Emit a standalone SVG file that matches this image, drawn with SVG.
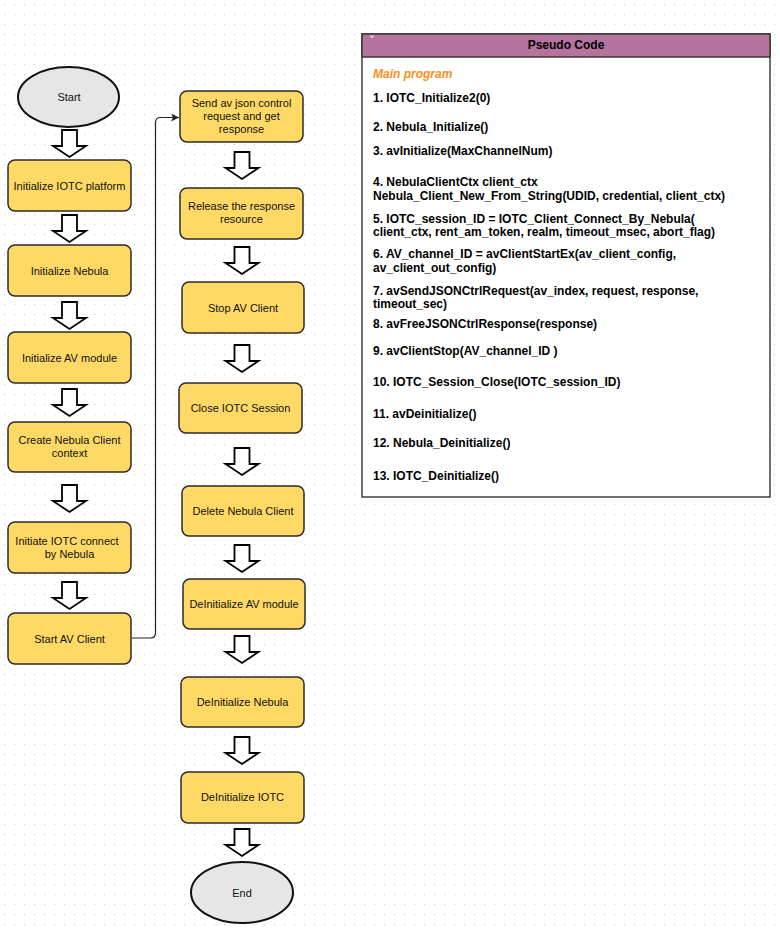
<svg xmlns="http://www.w3.org/2000/svg" width="780" height="933" viewBox="0 0 780 933">
<defs>
<pattern id="grid" width="10" height="10" patternUnits="userSpaceOnUse">
<rect x="4" y="4" width="1.2" height="1.2" fill="#d3d3d3"/>
</pattern>
<path id="barrow" d="M-7.5,0 H7.5 V16 H16.5 L0,27 L-16.5,16 H-7.5 Z"/>
<marker id="ah" markerWidth="10" markerHeight="10" refX="8" refY="4" orient="auto" markerUnits="userSpaceOnUse">
<path d="M0,0 L8,4 L0,8 L2,4 Z" fill="#222"/>
</marker>
<style>
.node{fill:#FFD966;stroke:#2b2b2b;stroke-width:1.5}
.term{fill:#E6E6E6;stroke:#111;stroke-width:2}
.bar{fill:#fff;stroke:#000;stroke-width:1.8;stroke-linejoin:miter}
.t{font-family:"Liberation Sans",Arial,sans-serif;font-size:11px;fill:#111;text-anchor:middle}
.p{font-family:"Liberation Sans",Arial,sans-serif;font-size:12px;font-weight:bold;fill:#000}
.conn{fill:none;stroke:#222;stroke-width:1.2}
</style>
</defs>
<rect width="780" height="933" fill="#fff"/>
<rect width="780" height="933" fill="url(#grid)"/>

<g id="connectors">
<path class="conn" d="M132,638 H150.5 Q155.5,638 155.5,633 V122.5 Q155.5,117.5 160.5,117.5 H179" marker-end="url(#ah)"/>
<g class="bar">
<use href="#barrow" x="69.5" y="130"/>
<use href="#barrow" x="69.5" y="215"/>
<use href="#barrow" x="69.5" y="302"/>
<use href="#barrow" x="69.5" y="389"/>
<use href="#barrow" x="69.5" y="485"/>
<use href="#barrow" x="69.5" y="582"/>
<use href="#barrow" x="242" y="152"/>
<use href="#barrow" x="242" y="247"/>
<use href="#barrow" x="242" y="345"/>
<use href="#barrow" x="242" y="448"/>
<use href="#barrow" x="242" y="545"/>
<use href="#barrow" x="242" y="636"/>
<use href="#barrow" x="242" y="737"/>
<use href="#barrow" x="242" y="829"/>
</g>
</g>

<g id="start"><ellipse class="term" cx="68.5" cy="97" rx="50.5" ry="30"/><text class="t" x="69" y="101">Start</text></g>
<g id="init-iotc"><rect class="node" x="8" y="160" width="123" height="51" rx="7"/><text class="t" x="69.5" y="189.5">Initialize IOTC platform</text></g>
<g id="init-nebula"><rect class="node" x="8" y="245" width="123" height="51" rx="7"/><text class="t" x="69.5" y="274.5">Initialize Nebula</text></g>
<g id="init-av"><rect class="node" x="8" y="332" width="123" height="51" rx="7"/><text class="t" x="69.5" y="361.5">Initialize AV module</text></g>
<g id="create-client"><rect class="node" x="8" y="422" width="123" height="50" rx="7"/><text class="t" x="69.5" y="444">Create Nebula Client</text><text class="t" x="69.5" y="457">context</text></g>
<g id="initiate-connect"><rect class="node" x="8" y="522" width="123" height="51" rx="7"/><text class="t" x="67" y="544.5">Initiate IOTC connect</text><text class="t" x="69.5" y="557.5">by Nebula</text></g>
<g id="start-av"><rect class="node" x="8" y="613" width="123" height="51" rx="7"/><text class="t" x="69.5" y="642.5">Start AV Client</text></g>

<g id="send-json"><rect class="node" x="180" y="91" width="123" height="51" rx="7"/><text class="t" x="241.5" y="107">Send av json control</text><text class="t" x="241.5" y="120">request and get</text><text class="t" x="241.5" y="133">response</text></g>
<g id="release"><rect class="node" x="180" y="188" width="123" height="51" rx="7"/><text class="t" x="241.5" y="210">Release the response</text><text class="t" x="241.5" y="223">resource</text></g>
<g id="stop-av"><rect class="node" x="182" y="282" width="122" height="51" rx="7"/><text class="t" x="243" y="311.5">Stop AV Client</text></g>
<g id="close-session"><rect class="node" x="179" y="383" width="123" height="50" rx="7"/><text class="t" x="240.5" y="411.5">Close IOTC Session</text></g>
<g id="delete-client"><rect class="node" x="182" y="486" width="122" height="50" rx="7"/><text class="t" x="243" y="514.5">Delete Nebula Client</text></g>
<g id="deinit-av"><rect class="node" x="183" y="579" width="122" height="50" rx="7"/><text class="t" x="244" y="607.5">DeInitialize AV module</text></g>
<g id="deinit-nebula"><rect class="node" x="181" y="677" width="123" height="50" rx="7"/><text class="t" x="242.5" y="705.5">DeInitialize Nebula</text></g>
<g id="deinit-iotc"><rect class="node" x="181" y="772" width="123" height="51" rx="7"/><text class="t" x="242.5" y="801">DeInitialize IOTC</text></g>
<g id="end"><ellipse class="term" cx="242" cy="892.5" rx="51" ry="30.5"/><text class="t" x="242" y="896.5">End</text></g>

<g id="pseudo-code">
<rect x="362" y="34" width="408" height="463" fill="#fff" stroke="#333" stroke-width="1.4"/>
<rect x="362" y="34" width="408" height="23" fill="#B5739D" stroke="#333" stroke-width="1.4"/>
<path d="M369.5,35.5 L374.5,35.5 L372,38.5 Z" fill="#e6c8dc"/>
<text class="p" x="566" y="49" text-anchor="middle">Pseudo Code</text>
<text class="p" x="373" y="78" font-style="italic" style="fill:#FF8C1A">Main program</text>
<text class="p" x="373" y="101.5">1. IOTC_Initialize2(0)</text>
<text class="p" x="373" y="131">2. Nebula_Initialize()</text>
<text class="p" x="373" y="155">3. avInitialize(MaxChannelNum)</text>
<text class="p" x="373" y="186">4. NebulaClientCtx client_ctx</text>
<text class="p" x="373" y="200">Nebula_Client_New_From_String(UDID, credential, client_ctx)</text>
<text class="p" x="373" y="222.5">5. IOTC_session_ID = IOTC_Client_Connect_By_Nebula(</text>
<text class="p" x="373" y="236">client_ctx, rent_am_token, realm, timeout_msec, abort_flag)</text>
<text class="p" x="373" y="257.5">6. AV_channel_ID = avClientStartEx(av_client_config,</text>
<text class="p" x="373" y="272">av_client_out_config)</text>
<text class="p" x="373" y="295">7. avSendJSONCtrlRequest(av_index, request, response,</text>
<text class="p" x="373" y="307.5">timeout_sec)</text>
<text class="p" x="373" y="327.5">8. avFreeJSONCtrlResponse(response)</text>
<text class="p" x="373" y="354.5">9. avClientStop(AV_channel_ID )</text>
<text class="p" x="373" y="386">10. IOTC_Session_Close(IOTC_session_ID)</text>
<text class="p" x="373" y="417.5">11. avDeinitialize()</text>
<text class="p" x="373" y="447">12. Nebula_Deinitialize()</text>
<text class="p" x="373" y="479.5">13. IOTC_Deinitialize()</text>
</g>
</svg>
